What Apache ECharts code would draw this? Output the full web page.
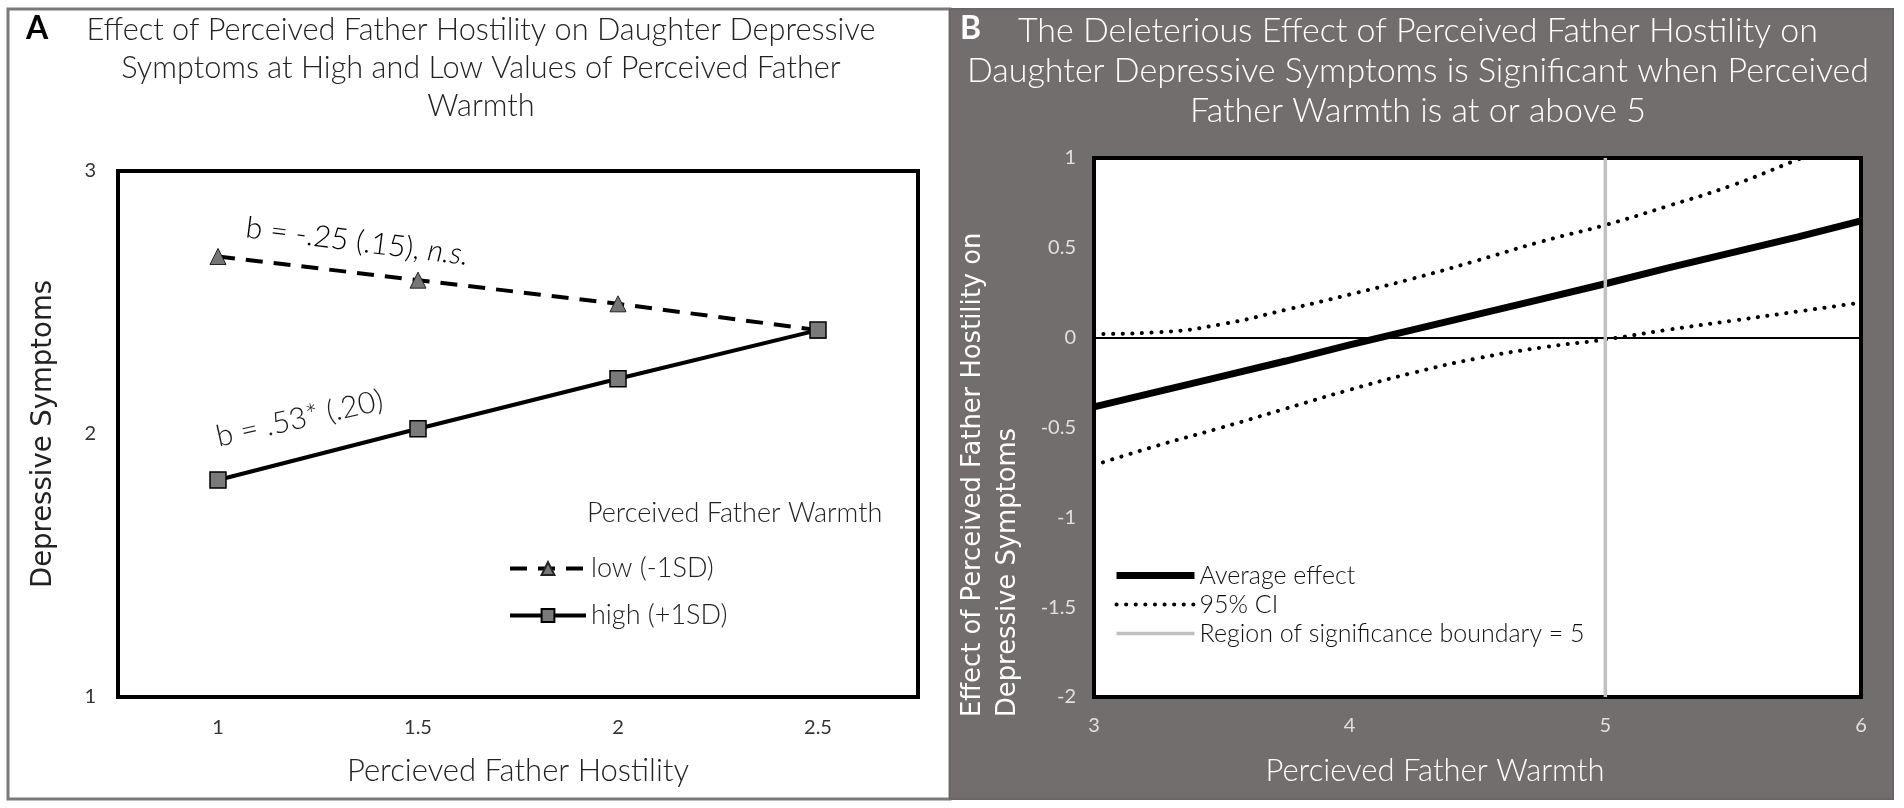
<!DOCTYPE html>
<html>
<head>
<meta charset="utf-8">
<script src="https://cdn.jsdelivr.net/npm/echarts@6/dist/echarts.min.js"></script>
<style>
html,body{margin:0;padding:0;background:#fff;}
#c{width:1904px;height:808px;}
</style>
</head>
<body>
<div id="c"></div>
<script>
// ---- Panel A data ----
const hostility = ['1', '1.5', '2', '2.5'];
const lowWarmth = [2.675, 2.585, 2.495, 2.395];
const highWarmth = [1.825, 2.02, 2.21, 2.395];
const panelAYTicks = [1, 3, 1]; // min, max, interval

// ---- Panel B data ----
const warmth = [3, 3.25, 3.5, 3.75, 4, 4.25, 4.5, 4.75, 5, 5.25, 5.5, 5.75, 6];
const avgEffect = [-0.385, -0.30, -0.215, -0.13, -0.04, 0.045, 0.13, 0.215, 0.30, 0.39, 0.475, 0.56, 0.65];
const ciUpper = [0.02, 0.03, 0.075, 0.155, 0.24, 0.33, 0.43, 0.535, 0.627, 0.735, 0.85, 0.99, 1.13];
const ciLower = [-0.71, -0.60, -0.50, -0.395, -0.29, -0.195, -0.115, -0.055, -0.01, 0.045, 0.095, 0.145, 0.195];
const boundary = 5;
const panelBYRange = [-2, 1];

const FONT = 'Lato';
const chart = echarts.init(document.getElementById('c'), null, {renderer: 'canvas'});

function pairs(xs, ys) { return xs.map((x, i) => [x, ys[i]]); }

const option = {
  animation: false,
  backgroundColor: '#fff',
  textStyle: {fontFamily: FONT},
  graphic: {elements: [
    {id: 'bgA', type: 'rect', z: -10, shape: {x: 8, y: 9, width: 942, height: 790}, style: {fill: '#fff', stroke: '#7a7a7a', lineWidth: 3}},
    {id: 'bgB', type: 'rect', z: -10, shape: {x: 950, y: 9, width: 943, height: 790}, style: {fill: '#736e6e', stroke: '#6a6666', lineWidth: 2}},
    {id: 'lblA', type: 'text', x: 26, y: 29, style: {text: 'A', font: 'bold 32px ' + FONT, fill: '#000', textVerticalAlign: 'middle'}},
    {id: 'lblB', type: 'text', x: 960, y: 29, style: {text: 'B', font: 'bold 32px ' + FONT, fill: '#fff', textVerticalAlign: 'middle'}},
    {id: 'titleA', type: 'text', x: 481, y: 11, style: {text: 'Effect of Perceived Father Hostility on Daughter Depressive\nSymptoms at High and Low Values of Perceived Father\nWarmth', font: '300 30.7px ' + FONT, fill: '#222', textAlign: 'center', textVerticalAlign: 'top', lineHeight: 38}},
    {id: 'titleB', type: 'text', x: 1418, y: 11, style: {text: 'The Deleterious Effect of Perceived Father Hostility on\nDaughter Depressive Symptoms is Significant when Perceived\nFather Warmth is at or above 5', font: '300 34px ' + FONT, fill: '#fff', textAlign: 'center', textVerticalAlign: 'top', lineHeight: 40}},
    {id: 'legTitleA', type: 'text', x: 587, y: 513, style: {text: 'Perceived Father Warmth', font: '300 27px ' + FONT, fill: '#222', textVerticalAlign: 'middle'}},
    {id: 'xTitleB', type: 'text', x: 1435, y: 771, style: {text: 'Percieved Father Warmth', font: '300 31px ' + FONT, fill: '#fff', textAlign: 'center', textVerticalAlign: 'middle'}},
    {id: 'yTitleB', type: 'text', x: 991, y: 717, rotation: Math.PI / 2,
     style: {text: 'Effect of Perceived Father Hostility on\nDepressive Symptoms', font: '25.8px "DejaVu Sans"', fill: '#fff', textAlign: 'left', textVerticalAlign: 'middle', lineHeight: 35}}
  ]},
  grid: [
    {left: 118, top: 171, width: 800, height: 526, show: true, backgroundColor: '#fff', borderColor: '#000', borderWidth: 4},
    {left: 1094, top: 158, width: 767, height: 539, show: true, backgroundColor: '#fff', borderColor: '#000', borderWidth: 4}
  ],
  xAxis: [
    {type: 'category', gridIndex: 0, data: hostility, boundaryGap: true,
     axisLine: {show: false}, axisTick: {show: false},
     axisLabel: {fontFamily: FONT, fontWeight: 'normal', fontSize: 20, color: '#333', margin: 21},
     name: 'Percieved Father Hostility', nameLocation: 'middle', nameGap: 58,
     nameTextStyle: {fontFamily: FONT, fontWeight: 300, fontSize: 31, color: '#222'}},
    {type: 'value', gridIndex: 1, min: 3, max: 6, interval: 1,
     axisLine: {show: false}, axisTick: {show: false}, splitLine: {show: false},
     axisLabel: {fontFamily: FONT, fontWeight: 'normal', fontSize: 20, color: '#e0e0e0', margin: 19}}
  ],
  yAxis: [
    {type: 'value', gridIndex: 0, min: panelAYTicks[0], max: panelAYTicks[1], interval: panelAYTicks[2],
     axisLine: {show: false}, axisTick: {show: false}, splitLine: {show: false},
     axisLabel: {fontFamily: FONT, fontWeight: 'normal', fontSize: 20, color: '#333', margin: 22},
     name: 'Depressive Symptoms', nameLocation: 'middle', nameGap: 60,
     nameTextStyle: {fontFamily: 'DejaVu Sans', fontWeight: 'normal', fontSize: 27.5, color: '#222'}},
    {type: 'value', gridIndex: 1, min: panelBYRange[0], max: panelBYRange[1], interval: 0.5,
     axisLine: {show: false}, axisTick: {show: false}, splitLine: {show: false},
     axisLabel: {fontFamily: FONT, fontWeight: 'normal', fontSize: 20, color: '#e0e0e0', margin: 18}}
  ],
  legend: [
    {orient: 'vertical', left: 503, top: 550, itemWidth: 76, itemHeight: 16, itemGap: 20,
     data: ['low (-1SD)', 'high (+1SD)'],
     lineStyle: {width: 4},
     textStyle: {fontFamily: FONT, fontWeight: 300, fontSize: 27, color: '#222'}},
    {orient: 'vertical', left: 1108, top: 558, itemWidth: 78, itemHeight: 14, itemGap: 4,
     data: ['Average effect', '95% CI', 'Region of significance boundary = 5'],
     itemStyle: {opacity: 0, borderWidth: 0},
     lineStyle: {width: 'inherit'},
     textStyle: {fontFamily: FONT, fontWeight: 300, fontSize: 25, color: '#111'}}
  ],
  series: [
    {name: 'low (-1SD)', type: 'line', xAxisIndex: 0, yAxisIndex: 0, data: lowWarmth,
     symbol: 'triangle', symbolSize: 16,
     itemStyle: {color: '#767676', borderColor: '#222', borderWidth: 1},
     lineStyle: {color: '#000', width: 4, type: [17, 11]}},
    {name: 'high (+1SD)', type: 'line', xAxisIndex: 0, yAxisIndex: 0, data: highWarmth,
     symbol: 'rect', symbolSize: 16,
     itemStyle: {color: '#7a7a7a', borderColor: '#000', borderWidth: 1.5},
     lineStyle: {color: '#000', width: 4}},
    {name: 'Average effect', type: 'line', xAxisIndex: 1, yAxisIndex: 1, data: pairs(warmth, avgEffect),
     symbol: 'none', lineStyle: {color: '#000', width: 7}, itemStyle: {color: '#000'}, z: 3,
     markLine: {silent: true, symbol: 'none', label: {show: false}, lineStyle: {color: '#000', width: 2, type: 'solid'}, data: [{yAxis: 0}]}},
    {name: '95% CI', type: 'line', xAxisIndex: 1, yAxisIndex: 1, data: pairs(warmth, ciUpper), smooth: true,
     symbol: 'none', clip: true, lineStyle: {color: '#000', width: 4, type: [0.1, 9.5], cap: 'round'}, itemStyle: {color: '#000'}},
    {name: '95% CI', type: 'line', xAxisIndex: 1, yAxisIndex: 1, data: pairs(warmth, ciLower), smooth: true,
     symbol: 'none', clip: true, lineStyle: {color: '#000', width: 4, type: [0.1, 9.5], cap: 'round'}, itemStyle: {color: '#000'}},
    {name: 'Region of significance boundary = 5', type: 'line', xAxisIndex: 1, yAxisIndex: 1,
     data: [[boundary, panelBYRange[0]], [boundary, panelBYRange[1]]], z: 5,
     symbol: 'none', lineStyle: {color: '#c0c0c0', width: 3.5}, itemStyle: {color: '#c0c0c0'}}
  ]
};
chart.setOption(option);

// Rotated slope annotations anchored to the first data points
const pLow = chart.convertToPixel({xAxisIndex: 0, yAxisIndex: 0}, [hostility[0], lowWarmth[0]]);
const pHigh = chart.convertToPixel({xAxisIndex: 0, yAxisIndex: 0}, [hostility[0], highWarmth[0]]);
chart.setOption({
  graphic: {elements: [
    {id: 'annLow', type: 'text', x: pLow[0] + 26, y: pLow[1] - 14, rotation: -0.125,
     style: {text: '{n|b = -.25 (.15), }{i|n.s.}', textVerticalAlign: 'bottom',
       rich: {n: {fontFamily: FONT, fontWeight: 300, fontSize: 30, color: '#1a1a1a'}, i: {fontFamily: FONT, fontWeight: 300, fontStyle: 'italic', fontSize: 30, color: '#1a1a1a'}}}},
    {id: 'annHigh', type: 'text', x: pHigh[0] + 2, y: pHigh[1] - 28, rotation: 0.222,
     style: {text: 'b = .53* (.20)', font: '300 30px ' + FONT, fill: '#1a1a1a', textVerticalAlign: 'bottom'}}
  ]}
});
</script>
</body>
</html>
